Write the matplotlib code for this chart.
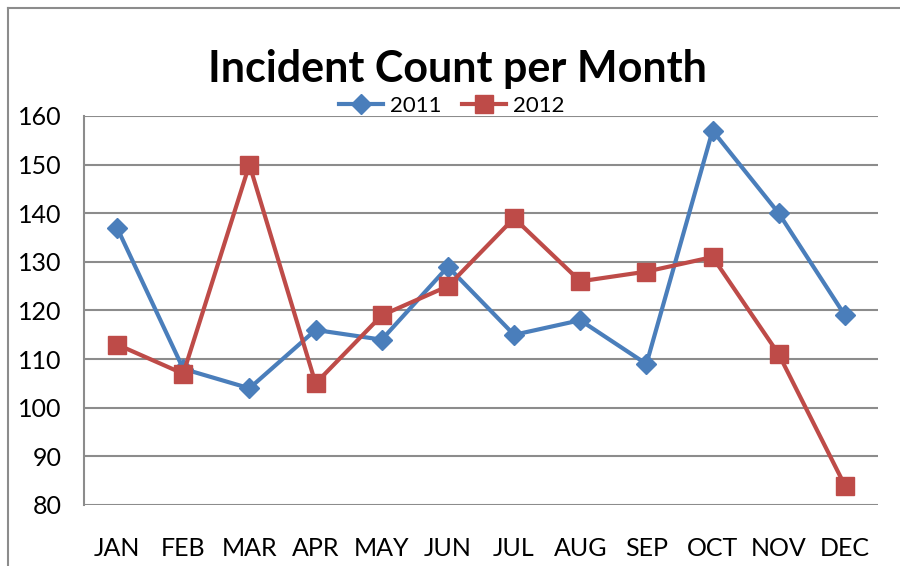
import matplotlib.pyplot as plt
from matplotlib.lines import Line2D

months = ['JAN', 'FEB', 'MAR', 'APR', 'MAY', 'JUN', 'JUL', 'AUG', 'SEP', 'OCT', 'NOV', 'DEC']
counts_2011 = [137, 108, 104, 116, 114, 129, 115, 118, 109, 157, 140, 119]
counts_2012 = [113, 107, 150, 105, 119, 125, 139, 126, 128, 131, 111, 84]

plt.rcParams['font.family'] = ['Lato', 'DejaVu Sans']

fig = plt.figure(figsize=(9, 5.66), dpi=100)
ax = fig.add_axes([84 / 900, 1 - 505 / 566, 794 / 900, 389 / 566])

x = range(len(months))
ax.plot(x, counts_2011, color='#4a7ebb', lw=3, marker='D', ms=10, label='2011', zorder=3)
ax.plot(x, counts_2012, color='#be4b48', lw=3, marker='s', ms=13, label='2012', zorder=3)

ax.set_xlim(-0.5, 11.5)
ax.set_ylim(80, 160)
ax.set_yticks(range(80, 161, 10))
ax.set_xticks(list(x))
ax.set_xticklabels(months)
ax.grid(axis='y', color='#8c8c8c', lw=1.5)
ax.set_axisbelow(True)
for s in ['top', 'right', 'bottom']:
    ax.spines[s].set_visible(False)
ax.spines['left'].set_color('#8c8c8c')
ax.spines['left'].set_linewidth(1.5)
ax.tick_params(length=0, labelsize=18)
ax.tick_params(axis='x', pad=23)
ax.tick_params(axis='y', pad=16)

fig.text(0.508, 1 - 82 / 566, 'Incident Count per Month', ha='center', va='baseline',
         fontsize=31, fontweight='bold')
ax.legend(loc='lower center', bbox_to_anchor=(0.463, 1.0), ncol=2, frameon=False,
          fontsize=16, handlelength=2.0, columnspacing=0.9, handletextpad=0.3,
          borderpad=0, borderaxespad=0)

# outer chart frame (left and top edges)
fx, fy = 7.5 / 900, 1 - 7.5 / 566
fig.add_artist(Line2D([fx, fx], [0, fy], transform=fig.transFigure, color='#8c8c8c', lw=1.5))
fig.add_artist(Line2D([fx, 1], [fy, fy], transform=fig.transFigure, color='#8c8c8c', lw=1.5))

fig.savefig('out.png')
